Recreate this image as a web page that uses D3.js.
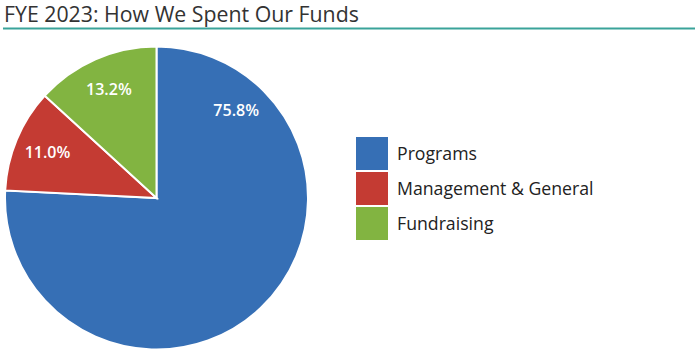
<!DOCTYPE html>
<html>
<head>
<meta charset="utf-8">
<script src="https://cdn.jsdelivr.net/npm/d3@7"></script>
<style>
  body { margin: 0; background: #fff; }
  text { font-family: "Open Sans", sans-serif; }
</style>
</head>
<body>
<div id="chart"></div>
<script>
// chart data
var categories = ["Programs", "Management & General", "Fundraising"]
var values = [75.8, 11.0, 13.2]
var colors = ["#366fb5", "#c43b33", "#82b441"]
var title = "FYE 2023: How We Spent Our Funds"

var width = 699, height = 361

var svg = d3.select("#chart")
    .append("svg")
    .attr("width", width)
    .attr("height", height)

// title and the rule under it
svg.append("text")
    .attr("x", 4)
    .attr("y", 22)
    .style("font-size", "21.3px")
    .style("fill", "#333")
    .text(title)

svg.append("line")
    .attr("x1", 3).attr("x2", 695)
    .attr("y1", 28.5).attr("y2", 28.5)
    .attr("stroke", "#3aa39a")
    .attr("stroke-width", 2)

// pie
var cx = 156.5, cy = 198, radius = 151.5
var pie = d3.pie().sort(null).value(function (d) { return d.value })
var arc = d3.arc().innerRadius(0).outerRadius(radius)

var data = categories.map(function (c, i) { return { name: c, value: values[i], color: colors[i] } })
var arcs = pie(data)

var g = svg.append("g").attr("transform", "translate(" + cx + "," + cy + ")")

g.selectAll("path")
    .data(arcs)
    .enter().append("path")
    .attr("d", arc)
    .attr("fill", function (d) { return d.data.color })
    .attr("stroke", "#fff")
    .attr("stroke-width", 2)

// labels: mid angle for small slices, big slice label sits near its start
var labelR = radius * 0.78
g.selectAll(".lbl")
    .data(arcs)
    .enter().append("text")
    .attr("class", "lbl")
    .attr("x", function (d) { return labelR * Math.sin(labelAngle(d)) })
    .attr("y", function (d) { return -labelR * Math.cos(labelAngle(d)) })
    .attr("dy", "0.35em")
    .attr("text-anchor", "middle")
    .style("fill", "#fff")
    .style("font-size", "16px")
    .style("font-weight", "600")
    .text(function (d) { return d.data.value.toFixed(1) + "%" })

function labelAngle(d) {
    var span = d.endAngle - d.startAngle
    if (span > Math.PI) return d.startAngle + 0.74
    return (d.startAngle + d.endAngle) / 2
}

// legend
var legend = svg.append("g").attr("transform", "translate(356,137)")
var item = legend.selectAll("g")
    .data(data)
    .enter().append("g")
    .attr("transform", function (d, i) { return "translate(0," + (i * 35) + ")" })

item.append("rect")
    .attr("width", 32)
    .attr("height", 33)
    .attr("fill", function (d) { return d.color })

item.append("text")
    .attr("x", 41)
    .attr("y", 17)
    .attr("dy", "0.35em")
    .style("font-size", "17.7px")
    .style("fill", "#222")
    .text(function (d) { return d.name })
</script>
</body>
</html>
